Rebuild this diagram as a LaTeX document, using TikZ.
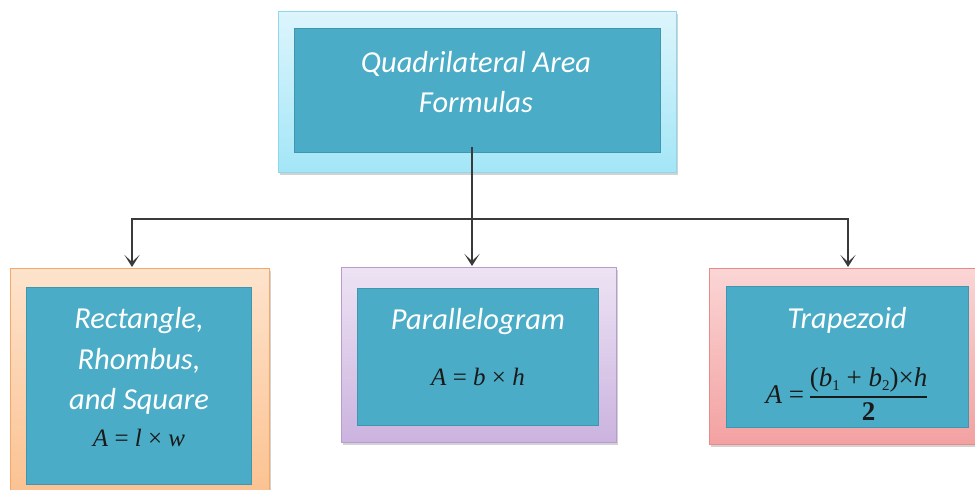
\documentclass[tikz,border=0pt]{standalone}
\usepackage{fontspec}
\usepackage{amsmath}
\setmainfont{Carlito}
\newfontfamily\mathserif{Liberation Serif}
\usetikzlibrary{arrows.meta,shadows}
\definecolor{innerfill}{HTML}{4AACC6}
\definecolor{innerline}{HTML}{3F97AF}
\definecolor{conn}{HTML}{3A3A3A}
\definecolor{formula}{HTML}{1A1A1A}
\definecolor{cyanT}{HTML}{DDF5FC}\definecolor{cyanB}{HTML}{A3E6F7}\definecolor{cyanL}{HTML}{8ED8EC}
\definecolor{orT}{HTML}{FDE3CC}\definecolor{orB}{HTML}{FBC08E}\definecolor{orL}{HTML}{F7A868}
\definecolor{puT}{HTML}{EDE3F4}\definecolor{puB}{HTML}{CBB3DF}\definecolor{puL}{HTML}{B99BD0}
\definecolor{rdT}{HTML}{FBD5D5}\definecolor{rdB}{HTML}{F3A1A1}\definecolor{rdL}{HTML}{E88A8A}
\tikzset{
  outerbox/.style={draw=#1, line width=1pt, anchor=north west, inner sep=0pt,
    drop shadow={shadow xshift=1.5pt, shadow yshift=-2pt, opacity=0.35}},
  innerbox/.style={fill=innerfill, draw=innerline, line width=0.4pt, anchor=north west, inner sep=0pt},
  title/.style={align=center, text=white, inner sep=0pt, font=\fontsize{30.5}{40}\selectfont\itshape},
  conline/.style={draw=conn, line width=1.8pt},
  conarrow/.style={conline, -{Stealth[length=12pt,width=15pt,inset=7pt]}},
}
\newcommand{\fml}[2]{{\mathserif\fontsize{#1}{#1}\selectfont\color{formula}#2}}
\newcommand{\sbs}[1]{\raisebox{-0.35ex}{\fontsize{15}{15}\selectfont #1}}
\begin{document}
\begin{tikzpicture}[x=1pt,y=-1pt]
\useasboundingbox (0,0) rectangle (975,490);
\clip (0,0) rectangle (975,490);
\fill[white] (0,0) rectangle (975,490);
% outer boxes
\node[outerbox=cyanL, top color=cyanT, bottom color=cyanB,
  minimum width=398pt, minimum height=161pt] (topo) at (278,11) {};
\node[outerbox=orL, top color=orT, bottom color=orB,
  minimum width=259pt, minimum height=240pt] (lefto) at (10,268) {};
\node[outerbox=puL, top color=puT, bottom color=puB,
  minimum width=275pt, minimum height=175pt] (mido) at (341,267) {};
\node[outerbox=rdL, top color=rdT, bottom color=rdB,
  minimum width=280pt, minimum height=176pt] (righto) at (709,268) {};
% inner boxes
\node[innerbox, minimum width=366pt, minimum height=124pt] (topi) at (294,28) {};
\node[title] (toptext) at (476,82) {Quadrilateral Area\\Formulas};
\node[innerbox, minimum width=225pt, minimum height=197pt] (lefti) at (26,287) {};
\node[title, font=\fontsize{30.5}{40.5}\selectfont\itshape] (lefttext) at (139,361) {Rectangle,\\Rhombus,\\and Square};
\node (leftf) at (139,438) {\fml{25}{\textit{A} = \textit{l} × \textit{w}}};
\node[innerbox, minimum width=241pt, minimum height=137pt] (midi) at (357,288) {};
\node[title] (midtext) at (478,322) {Parallelogram};
\node (midf) at (478,377) {\fml{25}{\textit{A} = \textit{b} × \textit{h}}};
\node[innerbox, minimum width=242pt, minimum height=141pt] (righti) at (726,286) {};
\node[title] (righttext) at (847,320) {Trapezoid};
\node (rightf) at (847,394) {\fml{27}{$\displaystyle\hbox{\textit{A} =\,}\genfrac{}{}{1.5pt}{0}{\hbox{(\textit{b}\sbs{1} + \textit{b}\sbs{2})×\textit{h}}}{\hbox{\textbf{2}}}$}};
% connectors
\coordinate (start) at (472,147);
\coordinate (jn) at (472,219);
\coordinate (la) at (132,267);
\coordinate (ma) at (472,266);
\coordinate (ra) at (848,267);
\draw[conline] (start) -- (jn);
\draw[conarrow] (jn) -| (la);
\draw[conarrow] (jn) -- (ma);
\draw[conarrow] (jn) -| (ra);
\end{tikzpicture}
\end{document}
